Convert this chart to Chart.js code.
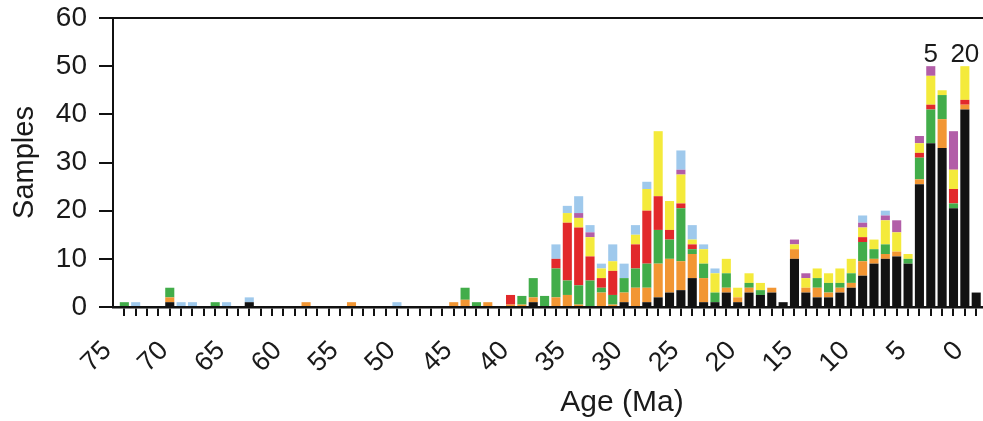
<!DOCTYPE html>
<html>
<head>
<meta charset="utf-8">
<script src="https://cdn.jsdelivr.net/npm/chart.js@4.4.1/dist/chart.umd.min.js"></script>
<style>
  html, body { margin: 0; padding: 0; background: #fff; overflow: hidden; }
  #wrap { width: 983px; height: 421px; overflow: hidden; }
  canvas { display: block; }
</style>
</head>
<body>
<div id="wrap"><canvas id="ageChart" width="1140" height="421"></canvas></div>
<script>
// 1 Ma bins, labelled by their older bound; oldest on the left
const binAges = [
  74, 73, 72, 71, 70, 69, 68, 67, 66, 65,
  64, 63, 62, 61, 60, 59, 58, 57, 56, 55,
  54, 53, 52, 51, 50, 49, 48, 47, 46, 45,
  44, 43, 42, 41, 40, 39, 38, 37, 36, 35,
  34, 33, 32, 31, 30, 29, 28, 27, 26, 25,
  24, 23, 22, 21, 20, 19, 18, 17, 16, 15,
  14, 13, 12, 11, 10, 9, 8, 7, 6, 5,
  4, 3, 2, 1, 0, -1
];

const ageLabels = [75, 70, 65, 60, 55, 50, 45, 40, 35, 30, 25, 20, 15, 10, 5, 0];
const sampleTicks = [0, 10, 20, 30, 40, 50, 60];

// sample counts per bin, stacked bottom to top in this order
const blackCounts = [
  0, 0, 0, 0, 1, 0, 0, 0, 0, 0,
  0, 1, 0, 0, 0, 0, 0, 0, 0, 0,
  0, 0, 0, 0, 0, 0, 0, 0, 0, 0,
  0, 0, 0, 0, 0, 0, 1, 0, 0, 0,
  0, 0, 0, 0, 1, 0, 1, 2, 3, 3.5,
  6, 1, 1, 3, 1, 3, 2.5, 3, 1, 10,
  3, 2, 2, 3, 4, 6.5, 9, 10, 10.5, 9,
  25.5, 34, 33, 20.5, 41, 3
];
const orangeCounts = [
  0, 0, 0, 0, 1, 0, 0, 0, 0, 0,
  0, 0, 0, 0, 0, 0, 1, 0, 0, 0,
  1, 0, 0, 0, 0, 0, 0, 0, 0, 1,
  1.5, 0, 1, 0, 0.5, 0.5, 1, 0, 2, 2.5,
  0.5, 0, 3, 0.5, 2, 4, 3, 7, 7, 6,
  5, 5, 0, 1, 1, 1, 0, 1, 0, 2,
  1, 2, 1, 1, 1, 3, 1, 1, 1, 0,
  1, 0, 6, 0, 1, 0
];
const greenCounts = [
  1, 0, 0, 0, 2, 0, 0, 0, 1, 0,
  0, 0, 0, 0, 0, 0, 0, 0, 0, 0,
  0, 0, 0, 0, 0, 0, 0, 0, 0, 0,
  2.5, 1, 0, 0, 0, 1.8, 4, 2.3, 6, 3,
  4, 5.5, 1, 2, 3, 4, 5, 7, 4, 11,
  1, 3, 2, 3, 0, 1, 1, 0, 0, 0,
  0, 2, 2, 1, 2, 4, 2, 2, 0, 1,
  4.5, 7, 5, 1, 0, 0
];
const redCounts = [
  0, 0, 0, 0, 0, 0, 0, 0, 0, 0,
  0, 0, 0, 0, 0, 0, 0, 0, 0, 0,
  0, 0, 0, 0, 0, 0, 0, 0, 0, 0,
  0, 0, 0, 0, 2, 0, 0, 0, 2, 12,
  12, 5, 2, 5, 0, 5, 11, 7, 2, 1,
  1, 0, 0, 0, 0, 0, 0, 0, 0, 0,
  0, 0, 0, 0, 0, 1, 0, 0, 0, 0,
  1, 1, 0, 3, 1, 0
];
const yellowCounts = [
  0, 0, 0, 0, 0, 0, 0, 0, 0, 0,
  0, 0, 0, 0, 0, 0, 0, 0, 0, 0,
  0, 0, 0, 0, 0, 0, 0, 0, 0, 0,
  0, 0, 0, 0, 0, 0, 0, 0, 0, 2,
  2, 4, 2, 2, 0, 2, 4.5, 13.5, 6, 6,
  1, 3, 4, 3, 2, 2, 1.5, 0, 0, 1,
  2, 2, 2, 3, 3, 2, 2, 5, 4, 1,
  2, 6, 1, 4, 7, 0
];
const purpleCounts = [
  0, 0, 0, 0, 0, 0, 0, 0, 0, 0,
  0, 0, 0, 0, 0, 0, 0, 0, 0, 0,
  0, 0, 0, 0, 0, 0, 0, 0, 0, 0,
  0, 0, 0, 0, 0, 0, 0, 0, 0, 0,
  1, 1, 0, 0, 0, 0, 0, 0, 0, 1,
  0, 0, 0, 0, 0, 0, 0, 0, 0, 1,
  1, 0, 0, 0, 0, 1, 0, 1, 2.5, 0,
  1.5, 2, 0, 8, 0, 0
];
const blueCounts = [
  0, 1, 0, 0, 0, 1, 1, 0, 0, 1,
  0, 1, 0, 0, 0, 0, 0, 0, 0, 0,
  0, 0, 0, 0, 1, 0, 0, 0, 0, 0,
  0, 0, 0, 0, 0, 0, 0, 0, 3, 1.5,
  3.5, 1.5, 1, 3.5, 3, 2, 1.5, 0, 0, 4,
  3, 1, 1, 0, 0, 0, 0, 0, 0, 0,
  0, 0, 0, 0, 0, 1.5, 0, 1, 0, 0,
  0, 0, 0, 0, 0, 0
];

// off-scale notes written above two bins
const noteAges = [3, 0];
const noteLabels = ['5', '20'];

const FONT = '"Liberation Sans", Arial, Helvetica, sans-serif';
const INK = '#1a1a1a';

const series = [
  { name: 'black', values: blackCounts, color: '#121212' },
  { name: 'orange', values: orangeCounts, color: '#f29633' },
  { name: 'green', values: greenCounts, color: '#42ad4a' },
  { name: 'red', values: redCounts, color: '#e2292b' },
  { name: 'yellow', values: yellowCounts, color: '#f4ea3b' },
  { name: 'purple', values: purpleCounts, color: '#b25ea8' },
  { name: 'blue', values: blueCounts, color: '#9fc9ec' }
];

const noteLabelsPlugin = {
  id: 'noteLabels',
  afterDatasetsDraw(chart) {
    const { ctx, scales: { x, y } } = chart;
    ctx.save();
    ctx.font = '26px ' + FONT;
    ctx.fillStyle = INK;
    ctx.textAlign = 'center';
    ctx.textBaseline = 'alphabetic';
    noteAges.forEach((age, k) => {
      const i = binAges.indexOf(age);
      const total = series.reduce((sum, s) => sum + s.values[i], 0);
      ctx.fillText(noteLabels[k], x.getPixelForValue(age - 0.5), y.getPixelForValue(total) - 4);
    });
    ctx.restore();
  }
};

Chart.defaults.font.family = FONT;
Chart.defaults.color = INK;

new Chart(document.getElementById('ageChart'), {
  type: 'bar',
  data: {
    datasets: series.map(s => ({
      label: s.name,
      data: s.values.map((v, i) => ({ x: binAges[i] - 0.5, y: v })),
      backgroundColor: s.color,
      borderWidth: 0,
      barPercentage: 0.8,
      categoryPercentage: 1
    }))
  },
  options: {
    responsive: false,
    animation: false,
    layout: { padding: { top: 18, right: 9, bottom: 0, left: 0 } },
    plugins: { legend: { display: false }, tooltip: { enabled: false } },
    scales: {
      x: {
        type: 'linear',
        reverse: true,
        stacked: true,
        min: -14.63,
        max: 74,
        afterBuildTicks(scale) {
          const ticks = [];
          for (let v = 75; v >= Math.ceil(scale.min); v--) ticks.push({ value: v });
          scale.ticks = ticks;
        },
        afterFit(scale) {
          scale.height = 114;
          scale.paddingLeft = 0;
          scale.paddingRight = 0;
        },
        ticks: {
          autoSkip: false,
          minRotation: 45,
          maxRotation: 45,
          padding: 19,
          color: INK,
          font: { size: 27 },
          callback: v => ageLabels.includes(v) ? String(v) : ''
        },
        grid: {
          drawOnChartArea: false,
          drawTicks: true,
          tickLength: 9,
          color: '#111',
          tickColor: '#111',
          lineWidth: 2
        },
        border: { display: true, color: '#111', width: 2.5 },
        title: {
          display: true,
          text: 'Age (Ma)',
          color: INK,
          font: { size: 30 },
          padding: { top: 0, bottom: 0 }
        }
      },
      y: {
        stacked: true,
        min: 0,
        max: 60,
        afterBuildTicks(scale) {
          scale.ticks = sampleTicks.map(v => ({ value: v }));
        },
        afterFit(scale) {
          scale.width = 113;
          scale.paddingTop = 0;
          scale.paddingBottom = 0;
        },
        ticks: {
          padding: 12,
          color: INK,
          font: { size: 28 }
        },
        grid: {
          drawOnChartArea: true,
          tickLength: 14,
          color: c => (c.tick && c.tick.value === 60) ? '#111' : 'rgba(0,0,0,0)',
          tickColor: '#111',
          lineWidth: 2
        },
        border: { display: true, color: '#111', width: 2 },
        title: {
          display: true,
          text: 'Samples',
          color: INK,
          font: { size: 29 },
          padding: { top: 8, bottom: 0 }
        }
      }
    }
  },
  plugins: [noteLabelsPlugin]
});
</script>
</body>
</html>
